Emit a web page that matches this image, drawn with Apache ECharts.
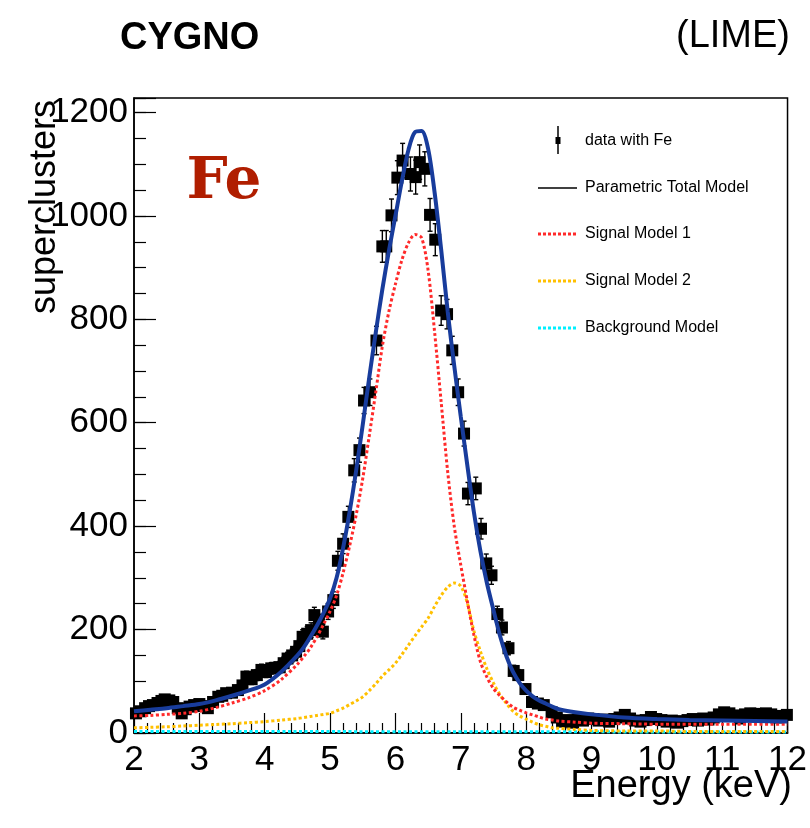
<!DOCTYPE html>
<html>
<head>
<meta charset="utf-8">
<script src="https://cdn.jsdelivr.net/npm/echarts@6.0.0/dist/echarts.min.js"></script>
<style>
html, body { margin: 0; padding: 0; background: #fff; }
#chart { width: 810px; height: 828px; }
</style>
</head>
<body>
<div id="chart"></div>
<script>
// data points (energy in keV, superclusters per bin)
var energy = [2.03,2.10,2.17,2.23,2.29,2.36,2.42,2.47,2.54,2.60,
  2.67,2.73,2.79,2.85,2.92,3.00,3.06,3.13,3.21,3.29,
  3.35,3.41,3.50,3.59,3.66,3.72,3.80,3.88,3.95,4.02,
  4.10,4.17,4.23,4.29,4.35,4.42,4.48,4.53,4.58,4.65,
  4.71,4.76,4.83,4.89,4.97,5.05,5.12,5.20,5.28,5.37,
  5.45,5.52,5.61,5.71,5.80,5.86,5.94,6.03,6.11,6.23,
  6.31,6.37,6.45,6.53,6.61,6.70,6.79,6.87,6.96,7.05,
  7.11,7.23,7.31,7.39,7.47,7.56,7.63,7.73,7.81,7.88,
  7.99,8.09,8.18,8.27,8.39,8.47,8.55,8.63,8.71,8.79,
  8.87,8.95,9.03,9.11,9.19,9.27,9.35,9.43,9.51,9.59,
  9.67,9.75,9.83,9.91,9.99,10.07,10.15,10.23,10.31,10.39,
  10.47,10.55,10.63,10.71,10.79,10.87,10.95,11.03,11.11,11.19,
  11.27,11.35,11.43,11.51,11.59,11.67,11.75,11.83,11.91,11.99];
var counts = [38,42,48,52,54,58,62,65,63,60,
  48,38,46,51,54,56,52,48,60,70,
  72,77,78,83,92,109,104,112,122,118,
  125,126,127,135,144,150,157,168,186,192,
  199,228,215,196,235,257,333,366,418,508,
  547,643,659,759,941,941,1001,1074,1107,1081,
  1075,1104,1091,1002,954,817,810,740,659,579,
  463,473,395,328,305,230,204,164,120,112,
  85,60,57,54,40,30,22,25,20,26,
  24,28,27,24,26,22,27,30,35,28,
  24,22,25,31,27,25,22,24,20,23,
  25,27,24,28,26,30,36,40,38,34,
  28,36,38,37,35,38,36,30,33,35];

// fitted model curves
var modelE = [2.0,2.25,2.5,2.75,3.0,3.25,3.5,3.75,4.0,4.25,
  4.5,4.6,4.7,4.8,4.9,5.0,5.1,5.2,5.3,5.4,
  5.5,5.6,5.7,5.8,5.9,6.0,6.1,6.2,6.3,6.4,
  6.5,6.6,6.7,6.8,6.9,7.0,7.1,7.2,7.3,7.4,
  7.5,7.6,7.7,7.8,7.9,8.0,8.1,8.2,8.3,8.4,
  8.5,8.75,9.0,9.5,10.0,10.5,11.0,11.5,12.0];
var totalModel = [42,45,48,52,56,63,72,82,94,118,
  150,166,186,208,232,260,300,358,428,508,
  596,688,775,858,932,1000,1068,1128,1162,1164,
  1130,1045,935,815,710,612,518,428,352,290,
  238,188,148,118,97,82,71,63,57,51,
  46,40,36,30,27,25,24,23,22];
var signal1 = [33,34,36,38,42,49,58,68,82,103,
  133,148,165,186,210,235,266,310,362,422,
  492,575,660,748,815,868,915,948,964,958,
  895,775,640,505,400,325,255,190,138,108,
  86,72,60,50,44,39,35,31,27,25,
  23,21,19,18,17,17,17,17,17];
var signal2 = [10,11,12,13.5,15,16.5,18,20,22,25,
  28,30,32,34,36,38,43,48,55,62,
  70,82,95,110,122,135,152,170,188,205,
  222,245,266,282,290,284,252,198,158,124,
  97,74,57,42,33,27,21,16,13,10,
  9,7,5,4,4,3,3,3,3];
var bkgE = [2,4,6,8,10,12];
var bkgModel = [3,3,2.5,2.5,2,2];

function pairs(xs, ys) {
  return xs.map(function (x, i) { return [x, ys[i]]; });
}

var FONT = 'Liberation Sans';
var chart = echarts.init(document.getElementById('chart'));

var option = {
  animation: false,
  backgroundColor: '#fff',
  grid: {
    left: 134, right: 20, top: 98, bottom: 95,
    show: true, borderColor: '#000', borderWidth: 1.5
  },
  xAxis: {
    type: 'value', min: 2, max: 12, interval: 1,
    axisLine: { show: true, onZero: false, lineStyle: { color: '#000', width: 1.5 } },
    axisTick: { inside: true, length: 20, lineStyle: { color: '#000', width: 1.2 } },
    minorTick: { show: true, splitNumber: 5, length: 10, lineStyle: { color: '#000', width: 1.2 } },
    axisLabel: { fontSize: 35, color: '#000', margin: 10, fontFamily: FONT },
    splitLine: { show: false }
  },
  yAxis: [
    {
      type: 'value', min: 0, max: 1228, interval: 200,
      axisLine: { show: true, lineStyle: { color: '#000', width: 1.5 } },
      axisTick: { inside: true, length: 22, lineStyle: { color: '#000', width: 1.2 } },
      axisLabel: {
        fontSize: 35, color: '#000', margin: 6, fontFamily: FONT,
        formatter: function (v) { return v % 200 === 0 ? String(v) : ''; }
      },
      splitLine: { show: false }
    },
    {
      type: 'value', position: 'left', offset: 0, min: 0, max: 1228, interval: 50,
      axisLine: { show: false },
      axisTick: { show: true, inside: true, length: 12, lineStyle: { color: '#000', width: 1.2 } },
      axisLabel: { show: false },
      splitLine: { show: false }
    }
  ],
  series: [
    {
      name: 'errors',
      type: 'custom',
      z: 2,
      clip: true,
      data: pairs(energy, counts),
      renderItem: function (params, api) {
        var x = api.value(0), y = api.value(1);
        var err = Math.sqrt(y);
        var top = api.coord([x, y + err]);
        var bot = api.coord([x, y - err]);
        var st = { stroke: '#000', lineWidth: 1.4 };
        var cap = 2.5;
        return {
          type: 'group',
          children: [
            { type: 'line', shape: { x1: top[0], y1: top[1], x2: bot[0], y2: bot[1] }, style: st },
            { type: 'line', shape: { x1: top[0] - cap, y1: top[1], x2: top[0] + cap, y2: top[1] }, style: st },
            { type: 'line', shape: { x1: bot[0] - cap, y1: bot[1], x2: bot[0] + cap, y2: bot[1] }, style: st }
          ]
        };
      }
    },
    {
      name: 'data with Fe',
      type: 'scatter',
      symbol: 'rect',
      symbolSize: 12,
      z: 2,
      itemStyle: { color: '#000', opacity: 1 },
      data: pairs(energy, counts)
    },
    {
      name: 'Background Model',
      type: 'line',
      z: 4,
      showSymbol: false,
      lineStyle: { color: '#00f0ff', width: 3, type: [3, 2.5] },
      data: pairs(bkgE, bkgModel)
    },
    {
      name: 'Signal Model 2',
      type: 'line',
      z: 4,
      smooth: 0.3,
      showSymbol: false,
      lineStyle: { color: '#ffc000', width: 3, type: [3, 2.5] },
      data: pairs(modelE, signal2)
    },
    {
      name: 'Signal Model 1',
      type: 'line',
      z: 4,
      smooth: 0.3,
      showSymbol: false,
      lineStyle: { color: '#ff2a2a', width: 3, type: [3, 2.5] },
      data: pairs(modelE, signal1)
    },
    {
      name: 'Parametric Total Model',
      type: 'line',
      z: 5,
      smooth: 0.3,
      showSymbol: false,
      lineStyle: { color: '#183c9c', width: 4 },
      data: pairs(modelE, totalModel)
    }
  ],
  graphic: [
    { type: 'text', left: 120, top: 20, style: { text: 'CYGNO', fontSize: 38, fontWeight: 'bold', fontFamily: FONT, fill: '#000' } },
    { type: 'text', x: 790, y: 37, style: { text: '(LIME)', fontSize: 38, fontFamily: FONT, fill: '#000', align: 'right', verticalAlign: 'middle' } },
    { type: 'text', x: 45, y: 100, rotation: Math.PI / 2, style: { text: 'superclusters', fontSize: 36, fontFamily: FONT, fill: '#000', align: 'right', verticalAlign: 'middle' } },
    { type: 'text', x: 792, y: 787, style: { text: 'Energy (keV)', fontSize: 38, fontFamily: FONT, fill: '#000', align: 'right', verticalAlign: 'middle' } },
    { type: 'text', x: 224, y: 183, z: 10, style: { text: 'Fe', fontSize: 58, fontWeight: 'bold', fontFamily: 'DejaVu Serif', fill: '#b01e00', align: 'center', verticalAlign: 'middle' } },
    // legend
    { type: 'line', shape: { x1: 558, y1: 126, x2: 558, y2: 154 }, style: { stroke: '#000', lineWidth: 1.5 } },
    { type: 'rect', shape: { x: 555.5, y: 137, width: 5, height: 7 }, style: { fill: '#000' } },
    { type: 'text', x: 585, y: 141, style: { text: 'data with Fe', fontSize: 16, fontFamily: FONT, fill: '#000', verticalAlign: 'middle' } },
    { type: 'line', shape: { x1: 538, y1: 188, x2: 577, y2: 188 }, style: { stroke: '#000', lineWidth: 1.5 } },
    { type: 'text', x: 585, y: 188, style: { text: 'Parametric Total Model', fontSize: 16, fontFamily: FONT, fill: '#000', verticalAlign: 'middle' } },
    { type: 'line', shape: { x1: 538, y1: 234, x2: 577, y2: 234 }, style: { stroke: '#ff2a2a', lineWidth: 3, lineDash: [3, 2] } },
    { type: 'text', x: 585, y: 234, style: { text: 'Signal Model 1', fontSize: 16, fontFamily: FONT, fill: '#000', verticalAlign: 'middle' } },
    { type: 'line', shape: { x1: 538, y1: 281, x2: 577, y2: 281 }, style: { stroke: '#ffc000', lineWidth: 3, lineDash: [3, 2] } },
    { type: 'text', x: 585, y: 281, style: { text: 'Signal Model 2', fontSize: 16, fontFamily: FONT, fill: '#000', verticalAlign: 'middle' } },
    { type: 'line', shape: { x1: 538, y1: 328, x2: 577, y2: 328 }, style: { stroke: '#00f0ff', lineWidth: 3, lineDash: [3, 2] } },
    { type: 'text', x: 585, y: 328, style: { text: 'Background Model', fontSize: 16, fontFamily: FONT, fill: '#000', verticalAlign: 'middle' } }
  ]
};

chart.setOption(option);
</script>
</body>
</html>
